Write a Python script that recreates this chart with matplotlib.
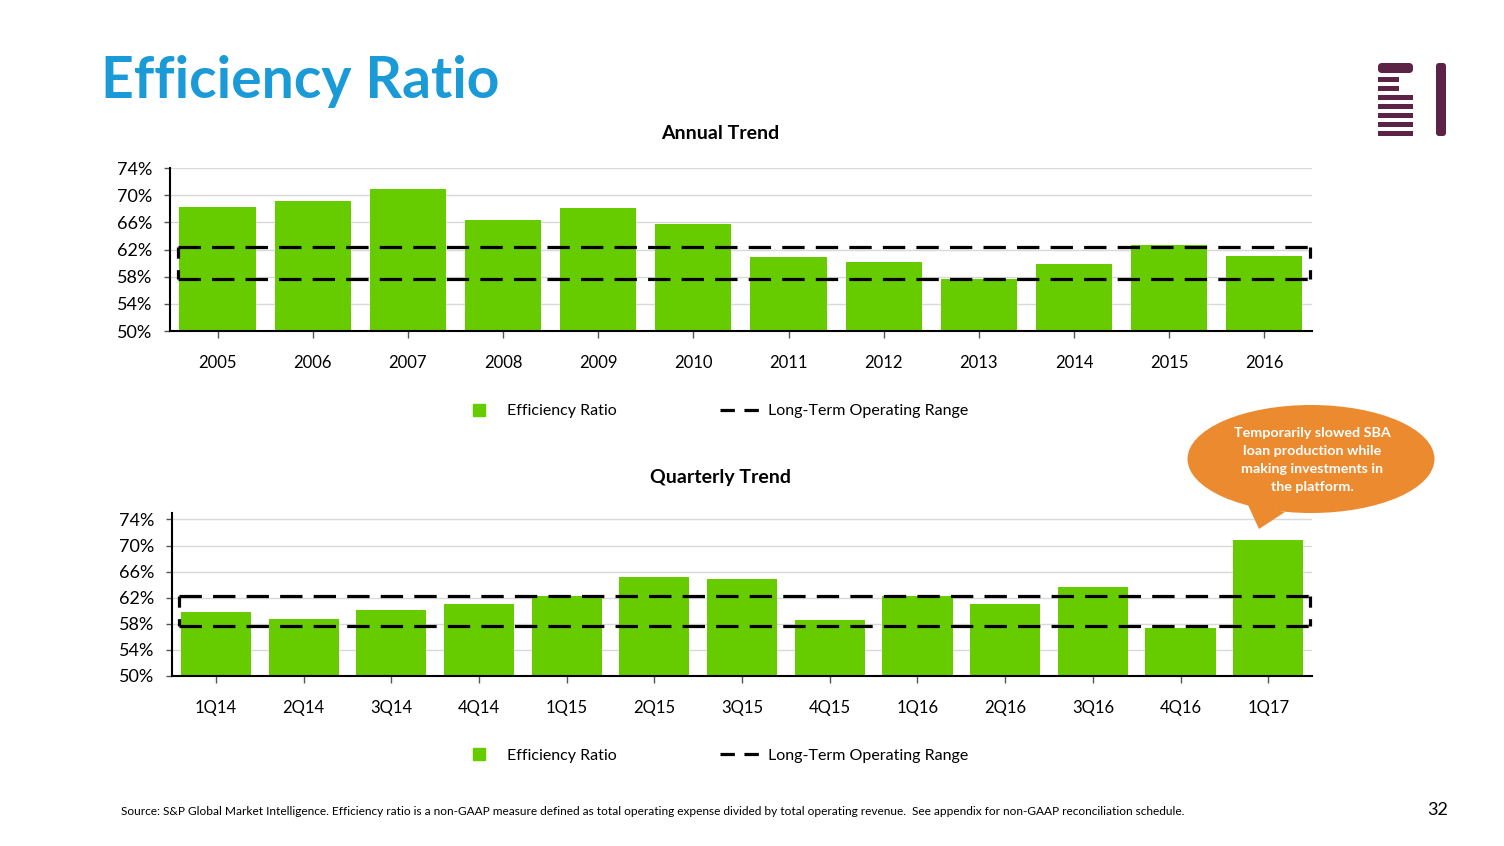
import matplotlib
matplotlib.use('Agg')
import matplotlib.pyplot as plt
from matplotlib.lines import Line2D
from matplotlib.patches import Ellipse, Polygon, Rectangle, FancyBboxPatch

plt.rcParams['font.family'] = ['Lato', 'DejaVu Sans']

# Datos
years = ['2005', '2006', '2007', '2008', '2009', '2010',
         '2011', '2012', '2013', '2014', '2015', '2016']
annual_ratio = [68.2, 69.2, 70.9, 66.3, 68.1, 65.7, 60.9, 60.2, 57.6, 59.9, 62.7, 61.1]

quarters = ['1Q14', '2Q14', '3Q14', '4Q14', '1Q15', '2Q15', '3Q15',
            '4Q15', '1Q16', '2Q16', '3Q16', '4Q16', '1Q17']
quarterly_ratio = [59.8, 58.8, 60.1, 61.0, 62.3, 65.2, 64.8, 58.6, 62.3, 61.0, 63.6, 57.4, 70.8]

range_low = 57.6
range_high = 62.3
y_ticks = [50, 54, 58, 62, 66, 70, 74]

GREEN = '#66CC00'
BLUE = '#1A9AD7'
ORANGE = '#EC8A30'
PURPLE = '#5C2346'

dash_box = (0, (7, 3.5))
dash_side = (0, (3.5, 3.6))
dash_leg = (0, (4.5, 3.0))


def draw_panel(ax, labels, values, ymax):
    x = list(range(len(labels)))
    ax.bar(x, values, width=0.8, color=GREEN, zorder=2)
    ax.set_xlim(-0.5, len(labels) - 0.5)
    ax.set_ylim(50, ymax)
    ax.set_xticks(x)
    ax.set_xticklabels(labels, fontsize=12)
    ax.set_yticks(y_ticks)
    ax.set_yticklabels([f'{t}%' for t in y_ticks], fontsize=13)
    ax.grid(axis='y', color='#d9d9d9', linewidth=1)
    ax.set_axisbelow(True)
    for side in ['top', 'right']:
        ax.spines[side].set_visible(False)
    for side in ['left', 'bottom']:
        ax.spines[side].set_color('black')
        ax.spines[side].set_linewidth(1.5)
    ax.tick_params(axis='x', direction='out', length=5, width=1, color='#555555', pad=12)
    ax.tick_params(axis='y', direction='out', length=4, width=1, color='#555555', pad=9)

    # Rango operativo de largo plazo (recuadro discontinuo)
    x0 = -0.42
    x1 = len(labels) - 0.52
    for level in [range_high, range_low]:
        ax.plot([x0, x1], [level, level], color='black', linewidth=2.3,
                linestyle=dash_box, zorder=3, clip_on=False)
    for xv in [x0, x1]:
        ax.plot([xv, xv], [range_high, range_low], color='black', linewidth=2.3,
                linestyle=dash_side, zorder=3, clip_on=False)

    handles = [Line2D([], [], marker='s', linestyle='none', color=GREEN, markersize=9),
               Line2D([], [], color='black', linewidth=2.3, linestyle=dash_leg)]
    return handles


fig = plt.figure(figsize=(15.04, 8.46), dpi=100)
legend_labels = ['Efficiency Ratio', 'Long-Term Operating Range']

# Tendencia anual
ax1 = fig.add_axes([0.1130, 0.6087, 0.7593, 0.1927])
h = draw_panel(ax1, years, annual_ratio, 74)
fig.legend(h, legend_labels,
           loc='center', bbox_to_anchor=(0.4745, 0.514), ncol=2, frameon=False,
           fontsize=11.5, handlelength=2.5, handletextpad=0.5, columnspacing=6.5)
fig.text(0.479, 1 - 133 / 846, 'Annual Trend', ha='center', va='center',
         fontsize=14, fontweight='bold')

# Tendencia trimestral
ax2 = fig.add_axes([0.1144, 0.2010, 0.7580, 0.1927])
h = draw_panel(ax2, quarters, quarterly_ratio, 75)
fig.legend(h, legend_labels,
           loc='center', bbox_to_anchor=(0.4745, 0.1064), ncol=2, frameon=False,
           fontsize=11.5, handlelength=2.5, handletextpad=0.5, columnspacing=6.5)
fig.text(0.479, 1 - 477 / 846, 'Quarterly Trend', ha='center', va='center',
         fontsize=14, fontweight='bold')

# Título y pie de página
fig.text(101 / 1504, 1 - 81 / 846, 'Efficiency Ratio', ha='left', va='center',
         fontsize=41, fontweight='bold', color=BLUE)
fig.text(121 / 1504, 1 - 811 / 846,
         'Source: S&P Global Market Intelligence. Efficiency ratio is a non-GAAP measure defined as '
         'total operating expense divided by total operating revenue.  See appendix for non-GAAP '
         'reconciliation schedule.', ha='left', va='center', fontsize=8.6)
fig.text(1448 / 1504, 1 - 810 / 846, '32', ha='right', va='center', fontsize=13)

# Capa de decoración en píxeles: logo y globo de comentario
deco = fig.add_axes([0, 0, 1, 1])
deco.set_xlim(0, 1504)
deco.set_ylim(846, 0)
deco.axis('off')
deco.patch.set_alpha(0)

deco.add_patch(FancyBboxPatch((1378, 63), 35, 10, boxstyle='round,pad=0,rounding_size=4',
                              color=PURPLE, linewidth=0))
for y in [77, 86]:
    deco.add_patch(Rectangle((1378, y), 21, 5, color=PURPLE, linewidth=0))
for y in [95, 104, 113, 122, 131]:
    deco.add_patch(Rectangle((1378, y), 35, 5, color=PURPLE, linewidth=0))
deco.add_patch(FancyBboxPatch((1436, 63), 10, 73, boxstyle='round,pad=0,rounding_size=3',
                              color=PURPLE, linewidth=0))

deco.add_patch(Ellipse((1311, 459), 247, 108, color=ORANGE, linewidth=0))
deco.add_patch(Polygon([(1248, 505), (1285, 512), (1259, 529)], closed=True,
                       color=ORANGE, linewidth=0))
deco.text(1312, 460,
          'Temporarily slowed SBA\nloan production while\nmaking investments in\nthe platform.',
          ha='center', va='center', color='white', fontsize=10.3, fontweight='bold',
          linespacing=1.6)

plt.savefig('out.png', dpi=100)
